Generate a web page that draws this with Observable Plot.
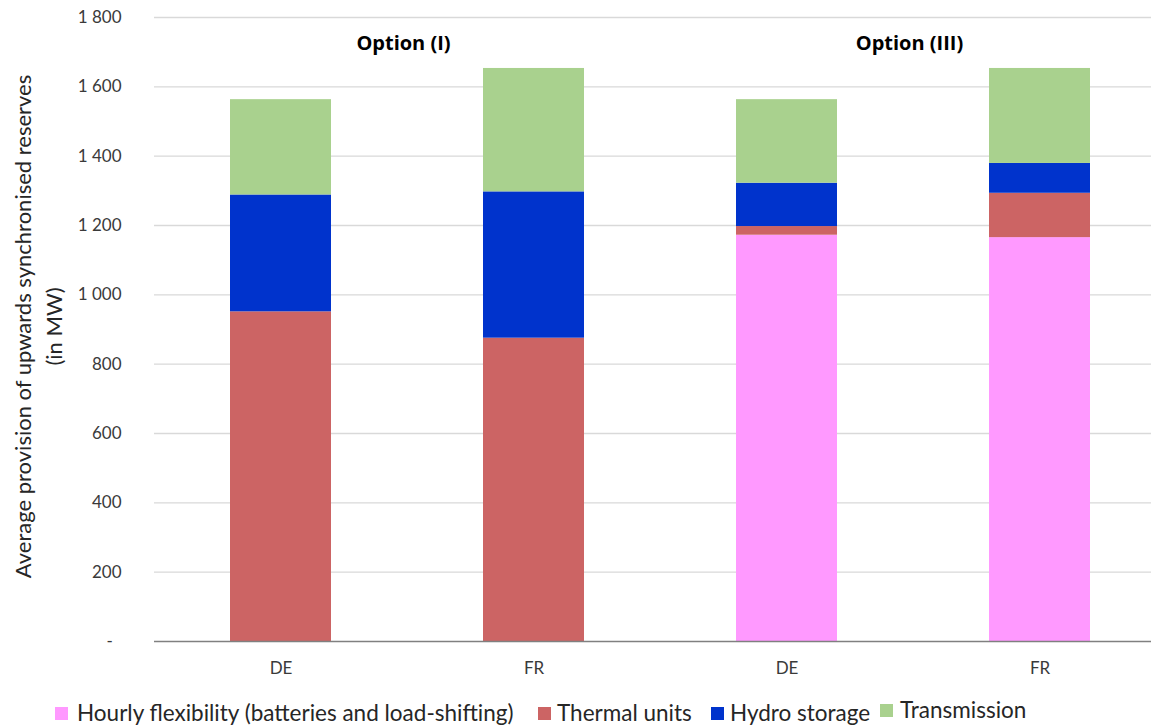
<!DOCTYPE html>
<html>
<head>
<meta charset="utf-8">
<script src="https://cdn.jsdelivr.net/npm/d3@7"></script>
<script src="https://cdn.jsdelivr.net/npm/@observablehq/plot@0.6"></script>
<style>
  html, body { margin: 0; padding: 0; background: #fff; overflow: hidden; }
  #chart { position: relative; width: 1151px; height: 727px; overflow: hidden; font-family: Lato, "Open Sans", sans-serif; }
  #chart svg { max-width: none !important; display: block; }
  .legend { position: absolute; top: 698px; left: 0; width: 1151px; height: 29px; font-size: 22.5px; color: #262626; }
  .legend .item { position: absolute; top: 0; height: 29px; }
  .legend .sw { position: absolute; top: 9px; width: 13px; height: 13px; }
  .legend .txt { position: absolute; top: 0; line-height: 29px; white-space: nowrap; }
</style>
</head>
<body>
<div id="chart"></div>
<script>
// Scenario groups, countries and reserve providers
const options = ["Option (I)", "Option (III)"];
const countries = ["DE", "FR"];
const sources = ["Hourly flexibility (batteries and load-shifting)", "Thermal units", "Hydro storage", "Transmission"];
const colors = ["#FF99FF", "#CC6464", "#0033CC", "#A9D18E"];

// Average upward synchronised reserves (MW), bars: Option (I) DE, Option (I) FR, Option (III) DE, Option (III) FR
const barOption = ["Option (I)", "Option (I)", "Option (III)", "Option (III)"];
const barCountry = ["DE", "FR", "DE", "FR"];
const hourly = [0, 0, 1172, 1165];
const thermal = [951, 875, 25, 128];
const hydro = [337, 422, 125, 86];
const transmission = [275, 356, 241, 274];

const yTicks = [0, 200, 400, 600, 800, 1000, 1200, 1400, 1600, 1800];
const yLabel = "Average provision of upwards synchronised reserves\n(in MW)";

const series = [hourly, thermal, hydro, transmission];
const rows = [];
series.forEach((vals, s) => {
  vals.forEach((v, i) => {
    if (v > 0) rows.push({option: barOption[i], country: barCountry[i], source: sources[s], value: v});
  });
});

// thousands separated by a space, zero shown as a dash
const fmt = d => d === 0 ? "-\u00a0\u00a0" : d3.format(",")(d).replace(",", " ");

const chart = Plot.plot({
  width: 1166,
  height: 690,
  marginLeft: 153,
  marginRight: 0,
  marginTop: 17,
  marginBottom: 49,
  style: {fontFamily: "Lato, 'Open Sans', sans-serif", fontSize: "17px", color: "#3a3a3a", background: "#fff"},
  fx: {domain: options, padding: 0, axis: null},
  x: {domain: countries, paddingInner: 0.6, paddingOuter: 0.3, label: null, tickSize: 0, tickPadding: 20},
  y: {domain: [0, 1800], ticks: yTicks, tickFormat: fmt, tickSize: 0, tickPadding: 33, label: null},
  color: {domain: sources, range: colors},
  marks: [
    Plot.gridY(yTicks.filter(d => d > 0), {stroke: "#d9d9d9", strokeOpacity: 1, strokeWidth: 1.3}),
    Plot.barY(rows, {fx: "option", x: "country", y: "value", fill: "source"}),
    Plot.ruleY([0], {stroke: "#808080", strokeWidth: 1.6}),
    Plot.text(options, {fx: d => d, text: d => d, frameAnchor: "top", lineAnchor: "middle", dy: 26, dx: -4,
      fontFamily: "'Open Sans', sans-serif", fontWeight: "bold", fontSize: 20, fill: "#000"}),
    Plot.text([yLabel], {fx: () => options[0], text: d => d, frameAnchor: "left", textAnchor: "middle", rotate: -90,
      dx: -118, dy: -3, lineAnchor: "middle", lineHeight: 1.4, fontSize: 22, fill: "#262626"})
  ]
});

const root = document.getElementById("chart");
root.appendChild(chart);

// Legend below the chart
const legend = document.createElement("div");
legend.className = "legend";
const swatchLeft = [55, 538, 711, 880];
const textLeft = [77, 557, 730, 900];
const tops = [0, 0, 0, -3];
sources.forEach((s, i) => {
  const item = document.createElement("div");
  item.className = "item";
  item.style.top = tops[i] + "px";
  const sw = document.createElement("span");
  sw.className = "sw";
  sw.style.left = swatchLeft[i] + "px";
  sw.style.background = colors[i];
  const label = document.createElement("span");
  label.className = "txt";
  label.style.left = textLeft[i] + "px";
  label.textContent = s;
  item.appendChild(sw);
  item.appendChild(label);
  legend.appendChild(item);
});
root.appendChild(legend);
</script>
</body>
</html>
